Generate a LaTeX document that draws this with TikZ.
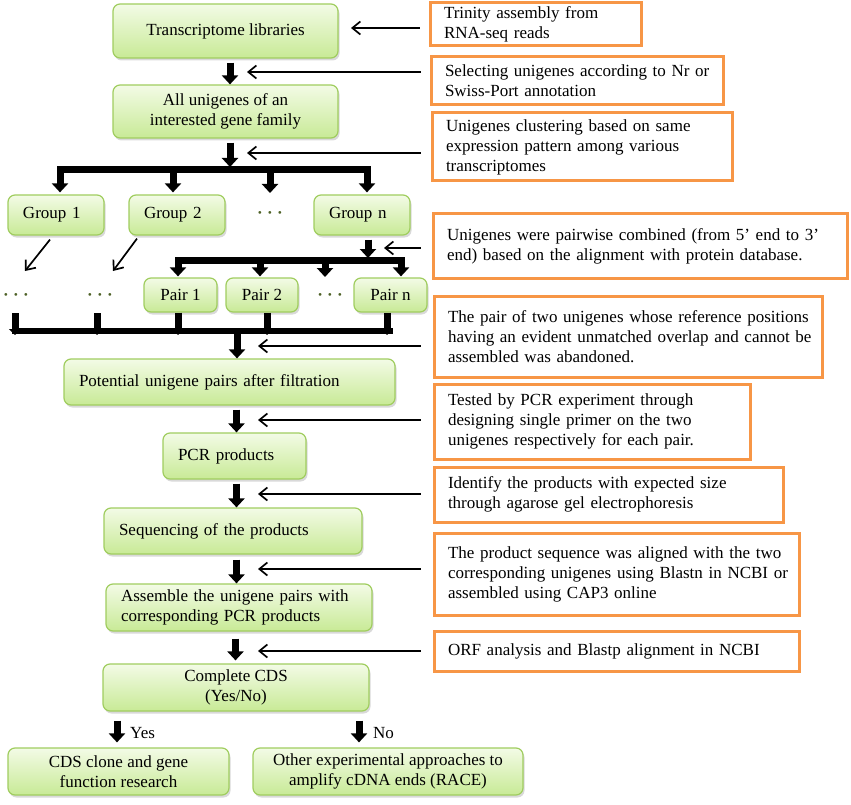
\documentclass[tikz,border=0pt]{standalone}
\usepackage{fontspec}
\setmainfont{Liberation Serif}
\usetikzlibrary{arrows.meta,shadows,calc}
\definecolor{gborder}{RGB}{160,205,95}
\definecolor{gtop}{RGB}{243,251,230}
\definecolor{gbot}{RGB}{200,234,150}
\definecolor{obord}{RGB}{247,150,70}
\definecolor{dotc}{RGB}{79,98,40}
\newcommand\mb[1]{\mbox{#1}}
\begin{document}
\begin{tikzpicture}[x=1pt,y=-1pt,
  font=\fontsize{17}{20}\selectfont,
  gbox/.style={draw=gborder, line width=1.2pt, rounded corners=7pt, top color=gtop, bottom color=gbot,
    drop shadow={shadow xshift=1.5pt, shadow yshift=-2.5pt, opacity=0.3}, inner xsep=15pt, inner ysep=0pt, align=center},
  gleft/.style={gbox, align=left},
  obox/.style={draw=obord, line width=3pt, fill=white, inner xsep=14pt, inner ysep=0pt, align=left},
  tarrow/.style={line width=7pt, -{Triangle[length=9pt,width=16pt]}},
  stub/.style={line width=7pt, -{Triangle[length=6pt,width=12pt]}},
  tline/.style={line width=6pt},
  sarrow/.style={line width=1.7pt, -{Straight Barb[length=8pt,width=13pt]}},
  dots/.style={text=dotc, inner sep=0pt, font=\fontsize{17}{20}\selectfont\bfseries}
]
\useasboundingbox (0,0) rectangle (851,805);

% green boxes
\node[gbox, minimum width=225pt, minimum height=54pt] (t) at (225.5,31) {Transcriptome libraries};
\node[gbox, minimum width=225pt, minimum height=53pt] (a) at (225.5,111.5) {All unigenes of an\\interested gene family};
\node[gleft, minimum width=96pt, minimum height=40pt, text width=66pt] (g1) at (56,215) {Group 1};
\node[gleft, minimum width=96pt, minimum height=40pt, text width=66pt] (g2) at (177,215) {Group 2};
\node[dots] (d0) at (270,215) {· · ·};
\node[gleft, minimum width=96pt, minimum height=40pt, text width=66pt] (gn) at (362,215) {Group n};
\node[dots] (d1) at (16,297) {· · ·};
\node[dots] (d2) at (100,297) {· · ·};
\node[gbox, minimum width=73pt, minimum height=34pt] (p1) at (180.5,295) {Pair 1};
\node[gbox, minimum width=72pt, minimum height=34pt] (p2) at (262,295) {Pair 2};
\node[dots] (d3) at (330,297) {· · ·};
\node[gbox, minimum width=73pt, minimum height=34pt] (pn) at (390.5,295) {Pair n};
\node[gleft, minimum width=331pt, minimum height=46pt, text width=301pt] (pot) at (229.5,382) {\mb{Potential unigene pairs after filtration}};
\node[gleft, minimum width=143pt, minimum height=46pt, text width=113pt] (pcr) at (234.5,456) {\mb{PCR products}};
\node[gleft, minimum width=258pt, minimum height=46pt, text width=228pt] (seq) at (233,531) {\mb{Sequencing of the products}};
\node[gleft, minimum width=266pt, minimum height=47pt, text width=236pt] (asm) at (239,607.5) {\mb{Assemble the unigene pairs with}\\\mb{corresponding PCR products}};
\node[gbox, minimum width=266pt, minimum height=47pt] (cds) at (236,687.5) {Complete CDS\\(Yes/No)};
\node[gbox, minimum width=221pt, minimum height=47pt] (clone) at (118.5,771.5) {CDS clone and gene\\function research};
\node[gbox, minimum width=270pt, minimum height=47pt, inner xsep=5pt] (other) at (388,771.5) {Other experimental approaches to\\amplify cDNA ends (RACE)};

% orange boxes
\node[obox, minimum width=211pt, minimum height=43pt, text width=183pt] (o1) at (535.5,24.5) {\mb{Trinity assembly from}\\\mb{RNA-seq reads}};
\node[obox, minimum width=292pt, minimum height=48pt, text width=264pt] (o2) at (577,81) {\mb{Selecting unigenes according to Nr or}\\\mb{Swiss-Port annotation}};
\node[obox, minimum width=300pt, minimum height=68pt, text width=272pt] (o3) at (582,147) {\mb{Unigenes clustering based on same}\\\mb{expression pattern among various}\\\mb{transcriptomes}};
\node[obox, minimum width=414pt, minimum height=64pt, text width=386pt] (o4) at (640,246) {\mb{Unigenes were pairwise combined (from 5’ end to 3’}\\\mb{end) based on the alignment with protein database.}};
\node[obox, minimum width=388pt, minimum height=81pt, text width=360pt] (o5) at (628,336.5) {\mb{The pair of two unigenes whose reference positions}\\\mb{having an evident unmatched overlap and cannot be}\\\mb{assembled was abandoned.}};
\node[obox, minimum width=316pt, minimum height=75pt, text width=288pt] (o6) at (592,421.5) {\mb{Tested by PCR experiment through}\\\mb{designing single primer on the two}\\\mb{unigenes respectively for each pair.}};
\node[obox, minimum width=349pt, minimum height=55pt, text width=321pt] (o7) at (608.5,494.5) {\mb{Identify the products with expected size}\\\mb{through agarose gel electrophoresis}};
\node[obox, minimum width=365pt, minimum height=82pt, text width=337pt] (o8) at (616.5,574) {\mb{The product sequence was aligned with the two}\\\mb{corresponding unigenes using Blastn in NCBI or}\\\mb{assembled using CAP3 online}};
\node[obox, minimum width=365pt, minimum height=40pt, text width=337pt] (o9) at (616.5,651) {\mb{ORF analysis and Blastp alignment in NCBI}};

% coordinates
\coordinate (sx) at (236.5,0);
\coordinate (b1) at (230,169.5);
\coordinate (b2) at (368,260);
\coordinate (b3) at (237,331);
\coordinate (bl) at (12,331);
\coordinate (br) at (393,331);
\coordinate (e1) at (351,28);
\coordinate (e2) at (247,72);
\coordinate (e3) at (247,153);
\coordinate (e4) at (384,248);
\coordinate (e5) at (258,346);
\coordinate (e6) at (258,420);
\coordinate (e7) at (258,494);
\coordinate (e8) at (258,569);
\coordinate (e9) at (258,651);
\coordinate (yx) at (117,0);
\coordinate (nx) at (359,0);

% main thick arrows
\draw[tarrow] ($(t.south)+(4.5,4)$) -- ($(a.north)+(4.5,0)$);
\draw[tarrow] ($(a.south)+(4.5,4)$) -- ($(b1)+(0,-2.5)$);
\draw[tarrow] (b1) -| ($(g1.north)+(4,-2)$);
\draw[tarrow] (b1) -| ($(gn.north)+(5,-2)$);
\draw[tarrow] ($(b1 -| g2.north)+(-4,0)$) -- ($(g2.north)+(-4,-2)$);
\draw[tarrow] (b1 -| d0) -- ($(d0)+(0,-22)$);

\draw[tarrow] ($(gn.south)+(6,4)$) -- ($(b2)+(0,-2)$);
\draw[tarrow] (b2) -| ($(p1.north)+(-2.5,-1)$);
\draw[tarrow] (b2) -| ($(pn.north)+(10.5,-1)$);
\draw[tarrow] ($(b2 -| p2.north)+(-2,0)$) -- ($(p2.north)+(-2,-1)$);
\draw[tarrow] ($(b2 -| d3)+(-5,0)$) -- ($(d3)+(-5,-20)$);

% bottom collection bar
\draw[tline] (bl) -- (br);
\draw[stub] ($(d1)+(-1,16)$) -- ($(d1 |- b3)+(-1,4)$);
\draw[stub] ($(d2)+(-3,16)$) -- ($(d2 |- b3)+(-3,4)$);
\draw[stub] ($(p1.south)+(-2.5,0)$) -- ($(p1.south |- b3)+(-2.5,4)$);
\draw[stub] ($(p2.south)+(5,0)$) -- ($(p2.south |- b3)+(5,4)$);
\draw[stub] ($(pn.south)+(-3.5,0)$) -- ($(pn.south |- b3)+(-3.5,4)$);
\draw[tarrow] ($(b3)+(0,1)$) -- (pot.north -| b3);

\draw[tarrow] ($(pot.south -| sx)+(0,4)$) -- (pcr.north -| sx);
\draw[tarrow] ($(pcr.south -| sx)+(0,4)$) -- (seq.north -| sx);
\draw[tarrow] ($(seq.south -| sx)+(0,5)$) -- (asm.north -| sx);
\draw[tarrow] ($(asm.south -| sx)+(-1,7)$) -- ($(cds.north -| sx)+(-1,-3)$);
\draw[tarrow] ($(cds.south -| yx)+(0,9)$) -- ($(clone.north -| yx)+(0,-5)$);
\draw[tarrow] ($(cds.south -| nx)+(0,9)$) -- ($(other.north -| nx)+(0,-5)$);
\node[anchor=west, inner sep=0pt] (yes) at (130,733) {Yes};
\node[anchor=west, inner sep=0pt] (no) at (373,733) {No};

% diagonal arrows
\draw[sarrow] ($(g1.south)+(-6,4)$) -- ($(d1)+(9,-26)$);
\draw[sarrow] ($(g2.south)+(-40,3)$) -- ($(d2)+(13,-26)$);

% side arrows
\draw[sarrow] ($(o1.west |- e1)+(-9,0)$) -- (e1);
\draw[sarrow] ($(o2.west |- e2)+(-9,0)$) -- (e2);
\draw[sarrow] ($(o3.west |- e3)+(-10,0)$) -- (e3);
\draw[sarrow] ($(o4.west |- e4)+(-11,0)$) -- (e4);
\draw[sarrow] ($(o5.west |- e5)+(-12,0)$) -- (e5);
\draw[sarrow] ($(o6.west |- e6)+(-12,0)$) -- (e6);
\draw[sarrow] ($(o7.west |- e7)+(-12,0)$) -- (e7);
\draw[sarrow] ($(o8.west |- e8)+(-12,0)$) -- (e8);
\draw[sarrow] ($(o9.west |- e9)+(-12,0)$) -- (e9);
\end{tikzpicture}
\end{document}
